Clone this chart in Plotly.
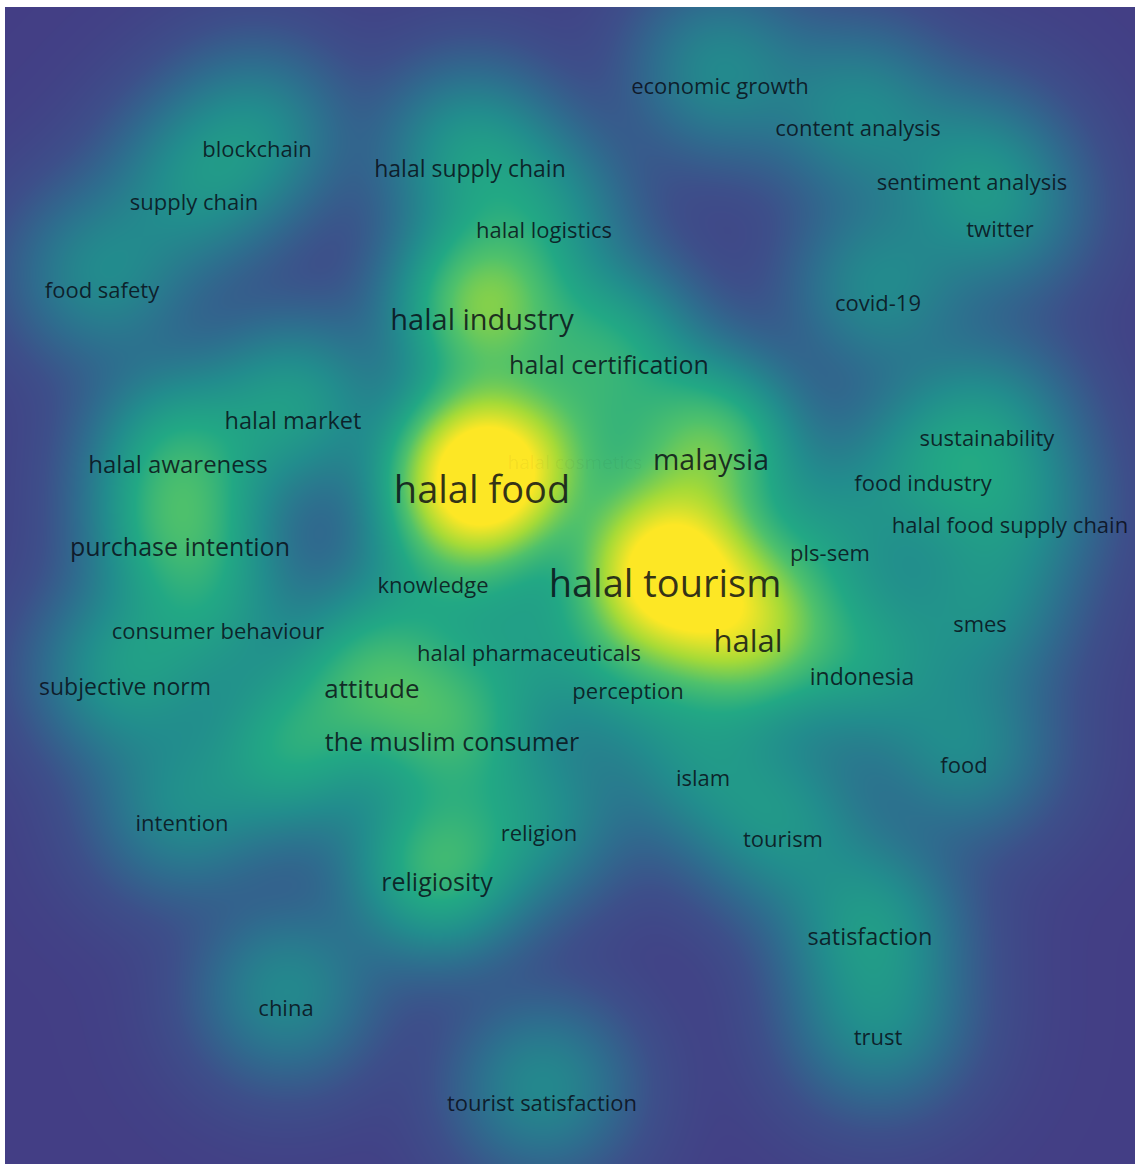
import numpy as np
import plotly.graph_objects as go

# Keyword co-occurrence map: label, map position (x right, y down), label size, occurrence weight
labels = [
    "economic growth", "content analysis", "blockchain", "halal supply chain",
    "sentiment analysis", "supply chain", "halal logistics", "twitter",
    "food safety", "covid-19", "halal industry", "halal certification",
    "halal market", "sustainability", "halal awareness", "halal food",
    "malaysia", "halal cosmetics", "food industry", "halal food supply chain",
    "purchase intention", "pls-sem", "knowledge", "halal tourism",
    "smes", "consumer behaviour", "halal pharmaceuticals", "halal",
    "subjective norm", "attitude", "perception", "indonesia",
    "the muslim consumer", "islam", "food", "intention",
    "religion", "tourism", "religiosity", "satisfaction",
    "china", "trust", "tourist satisfaction", "",
]
pos_x = [
    715, 853, 252, 465,
    967, 189, 539, 995,
    97, 873, 477, 604,
    288, 982, 173, 477,
    706, 570, 918, 1005,
    175, 825, 428, 660,
    975, 213, 524, 743,
    120, 367, 623, 857,
    447, 698, 959, 177,
    534, 778, 432, 865,
    281, 873, 537, 285,
]
pos_y = [
    81, 123, 144, 164,
    177, 197, 225, 224,
    285, 298, 316, 361,
    416, 433, 460, 486,
    456, 457, 478, 520,
    543, 548, 580, 580,
    619, 626, 648, 637,
    682, 684, 686, 672,
    738, 773, 760, 818,
    828, 834, 878, 932,
    1003, 1032, 1098, 760,
]
label_size = [
    22, 22, 22, 23,
    22, 22, 22, 22,
    22, 22, 29, 25,
    23.5, 22, 24, 38,
    28.5, 19, 22, 22,
    25, 22, 22, 38,
    22, 22, 22, 31,
    23, 26, 22, 23,
    25, 22, 22, 22,
    22, 22, 25, 23.5,
    22, 22, 22, 22,
]
weight = [
    14, 14, 14, 19,
    11, 14, 14, 11,
    14, 14, 44, 25,
    20, 14, 22, 100,
    38, 14, 14, 14,
    27, 14, 14, 85,
    14, 14, 14, 50,
    19, 28, 14, 19,
    27, 14, 14, 14,
    14, 16, 32, 18,
    14, 14, 14, 24,
]
# labels drawn faded because they are covered by neighbours
faded = {"halal cosmetics"}

MAP_W, MAP_H = 1130, 1157
KERNEL = 55.0
# density layer sits slightly above the label anchors
DENSITY_SHIFT = 18.0

gx = np.arange(0, MAP_W + 1, 5.0)
gy = np.arange(0, MAP_H + 1, 5.0)
XX, YY = np.meshgrid(gx, gy)
dens = np.zeros_like(XX)
for px, py, w in zip(pos_x, pos_y, weight):
    cy = py - DENSITY_SHIFT
    dens += w * np.exp(-((XX - px) ** 2 + (YY - cy) ** 2) / (2 * KERNEL ** 2))
dens = np.sqrt(dens / dens.max())

scale = [
    [0.00, "#433e85"],
    [0.15, "#3d4f8a"],
    [0.30, "#2e6d8e"],
    [0.45, "#228c8d"],
    [0.60, "#22a884"],
    [0.72, "#4fc16b"],
    [0.85, "#a5da37"],
    [1.00, "#fde725"],
]

fig = go.Figure()
fig.add_trace(go.Heatmap(
    x=gx, y=gy, z=dens, zmin=0.0, zmax=0.85, zsmooth="best",
    colorscale=scale, showscale=False, hoverinfo="skip",
))
colors = ["rgba(0,0,0,0.05)" if t in faded else "rgba(8,10,20,0.82)" for t in labels]
fig.add_trace(go.Scatter(
    x=pos_x, y=pos_y, mode="text", text=labels,
    textposition="middle center",
    textfont=dict(family="Open Sans", size=label_size, color=colors),
    hoverinfo="text",
))
fig.update_xaxes(range=[0, MAP_W], visible=False, showgrid=False, zeroline=False)
fig.update_yaxes(range=[MAP_H, 0], visible=False, showgrid=False, zeroline=False)
fig.update_layout(
    width=1135, height=1164,
    margin=dict(l=5, r=0, t=7, b=0),
    paper_bgcolor="white", plot_bgcolor="#433e85",
    showlegend=False,
)
fig.write_html("out.html")
